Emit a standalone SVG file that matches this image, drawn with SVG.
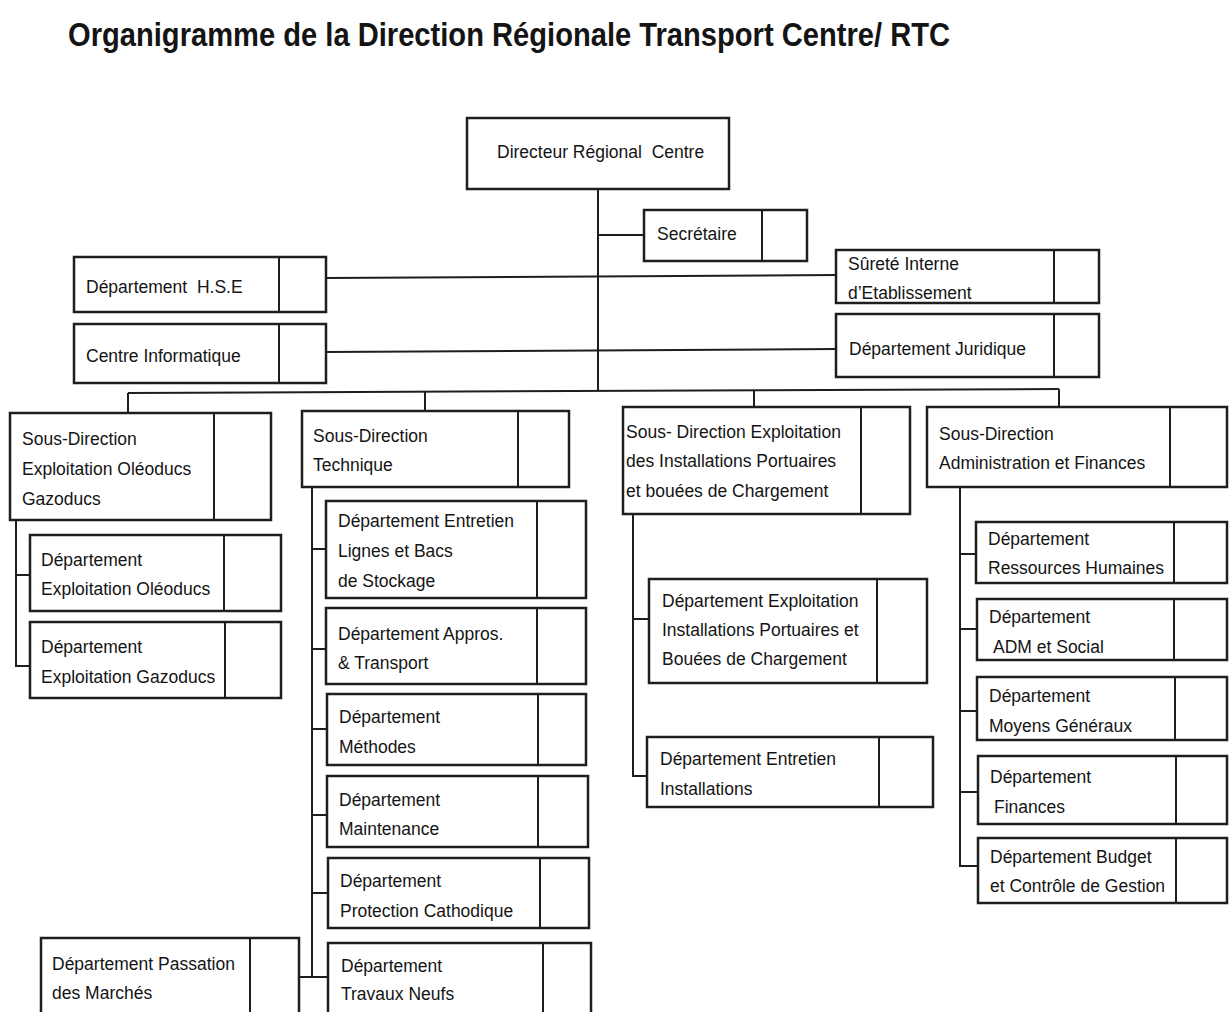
<svg xmlns="http://www.w3.org/2000/svg" width="1229" height="1012" viewBox="0 0 1229 1012">
<style>
.b{fill:#fff;stroke:#1e1e1e;stroke-width:2.5}
.d{stroke:#1e1e1e;stroke-width:2}
.c{fill:none;stroke:#1e1e1e;stroke-width:2}
text{font-family:"Liberation Sans",Arial,sans-serif;font-size:17.5px;fill:#141414;white-space:pre}
.t{font-size:34px;font-weight:bold}
</style>
<rect width="1229" height="1012" fill="#fff"/>
<text class="t" x="68" y="46" textLength="882" lengthAdjust="spacingAndGlyphs">Organigramme de la Direction Régionale Transport Centre/ RTC</text>
<g id="connectors" class="c">
<path d="M598 189V391"/>
<path d="M598 235H644"/>
<path d="M326 278L836 275"/>
<path d="M326 352L836 349"/>
<path d="M128 393L1059 389"/>
<path d="M128 393V413M425 392V411M754 390V407M1059 389V407"/>
<path d="M16 520V666H30M16 575H30"/>
<path d="M312 487V977H328M312 549H326M312 649H326M312 729H327M312 815H327M312 893H328M299 977H312"/>
<path d="M633 514V776H647M633 619H649"/>
<path d="M960 487V866H978M960 554H976M960 629H977M960 711H977M960 792H978"/>
</g>
<g id="directeur"><rect class="b" x="467" y="118" width="262" height="71"/><text x="497" y="158">Directeur Régional  Centre</text></g>
<g id="secretaire"><rect class="b" x="644" y="210" width="163" height="51"/><line class="d" x1="762" y1="210" x2="762" y2="261"/><text x="657" y="240">Secrétaire</text></g>
<g id="hse"><rect class="b" x="74" y="257" width="252" height="55"/><line class="d" x1="279" y1="257" x2="279" y2="312"/><text x="86" y="293">Département  H.S.E</text></g>
<g id="informatique"><rect class="b" x="74" y="324" width="252" height="59"/><line class="d" x1="279" y1="324" x2="279" y2="383"/><text x="86" y="362">Centre Informatique</text></g>
<g id="surete"><rect class="b" x="836" y="250" width="263" height="53"/><line class="d" x1="1054" y1="250" x2="1054" y2="303"/><text x="848" y="270">Sûreté Interne</text><text x="848" y="299">d’Etablissement</text></g>
<g id="juridique"><rect class="b" x="836" y="314" width="263" height="63"/><line class="d" x1="1054" y1="314" x2="1054" y2="377"/><text x="849" y="355">Département Juridique</text></g>
<g id="sd-eog"><rect class="b" x="10" y="413" width="261" height="107"/><line class="d" x1="214" y1="413" x2="214" y2="520"/><text x="22" y="445">Sous-Direction</text><text x="22" y="475">Exploitation Oléoducs</text><text x="22" y="505">Gazoducs</text></g>
<g id="dep-oleoducs"><rect class="b" x="30" y="535" width="251" height="76"/><line class="d" x1="224" y1="535" x2="224" y2="611"/><text x="41" y="566">Département</text><text x="41" y="595">Exploitation Oléoducs</text></g>
<g id="dep-gazoducs"><rect class="b" x="30" y="622" width="251" height="76"/><line class="d" x1="225" y1="622" x2="225" y2="698"/><text x="41" y="653">Département</text><text x="41" y="683">Exploitation Gazoducs</text></g>
<g id="sd-technique"><rect class="b" x="302" y="411" width="267" height="76"/><line class="d" x1="518" y1="411" x2="518" y2="487"/><text x="313" y="442">Sous-Direction</text><text x="313" y="471">Technique</text></g>
<g id="dep-entretien-lignes"><rect class="b" x="326" y="501" width="260" height="97"/><line class="d" x1="537" y1="501" x2="537" y2="598"/><text x="338" y="527">Département Entretien</text><text x="338" y="557">Lignes et Bacs</text><text x="338" y="587">de Stockage</text></g>
<g id="dep-appros"><rect class="b" x="326" y="608" width="260" height="76"/><line class="d" x1="537" y1="608" x2="537" y2="684"/><text x="338" y="640">Département Appros.</text><text x="338" y="669">&amp; Transport</text></g>
<g id="dep-methodes"><rect class="b" x="327" y="694" width="259" height="71"/><line class="d" x1="538" y1="694" x2="538" y2="765"/><text x="339" y="723">Département</text><text x="339" y="753">Méthodes</text></g>
<g id="dep-maintenance"><rect class="b" x="327" y="776" width="261" height="71"/><line class="d" x1="538" y1="776" x2="538" y2="847"/><text x="339" y="806">Département</text><text x="339" y="835">Maintenance</text></g>
<g id="dep-protection"><rect class="b" x="328" y="858" width="261" height="70"/><line class="d" x1="540" y1="858" x2="540" y2="928"/><text x="340" y="887">Département</text><text x="340" y="917">Protection Cathodique</text></g>
<g id="dep-travaux"><rect class="b" x="328" y="943" width="263" height="75"/><line class="d" x1="543" y1="943" x2="543" y2="1018"/><text x="341" y="972">Département</text><text x="341" y="1000">Travaux Neufs</text></g>
<g id="dep-passation"><rect class="b" x="41" y="938" width="258" height="80"/><line class="d" x1="250" y1="938" x2="250" y2="1018"/><text x="52" y="970">Département Passation</text><text x="52" y="999">des Marchés</text></g>
<g id="sd-portuaires"><rect class="b" x="623" y="407" width="287" height="107"/><line class="d" x1="861" y1="407" x2="861" y2="514"/><text x="626" y="438">Sous- Direction Exploitation</text><text x="626" y="467">des Installations Portuaires</text><text x="626" y="497">et bouées de Chargement</text></g>
<g id="dep-expl-portuaires"><rect class="b" x="649" y="579" width="278" height="104"/><line class="d" x1="877" y1="579" x2="877" y2="683"/><text x="662" y="607">Département Exploitation</text><text x="662" y="636">Installations Portuaires et</text><text x="662" y="665">Bouées de Chargement</text></g>
<g id="dep-entretien-install"><rect class="b" x="647" y="737" width="286" height="70"/><line class="d" x1="879" y1="737" x2="879" y2="807"/><text x="660" y="765">Département Entretien</text><text x="660" y="795">Installations</text></g>
<g id="sd-admin"><rect class="b" x="927" y="407" width="300" height="80"/><line class="d" x1="1170" y1="407" x2="1170" y2="487"/><text x="939" y="440">Sous-Direction</text><text x="939" y="469">Administration et Finances</text></g>
<g id="dep-rh"><rect class="b" x="976" y="522" width="251" height="61"/><line class="d" x1="1174" y1="522" x2="1174" y2="583"/><text x="988" y="545">Département</text><text x="988" y="574">Ressources Humaines</text></g>
<g id="dep-adm"><rect class="b" x="977" y="599" width="250" height="61"/><line class="d" x1="1174" y1="599" x2="1174" y2="660"/><text x="989" y="623">Département</text><text x="993" y="653">ADM et Social</text></g>
<g id="dep-moyens"><rect class="b" x="977" y="677" width="250" height="63"/><line class="d" x1="1175" y1="677" x2="1175" y2="740"/><text x="989" y="702">Département</text><text x="989" y="732">Moyens Généraux</text></g>
<g id="dep-finances"><rect class="b" x="978" y="756" width="249" height="68"/><line class="d" x1="1176" y1="756" x2="1176" y2="824"/><text x="990" y="783">Département</text><text x="994" y="813">Finances</text></g>
<g id="dep-budget"><rect class="b" x="978" y="838" width="249" height="65"/><line class="d" x1="1176" y1="838" x2="1176" y2="903"/><text x="990" y="863">Département Budget</text><text x="990" y="892">et Contrôle de Gestion</text></g>
</svg>
